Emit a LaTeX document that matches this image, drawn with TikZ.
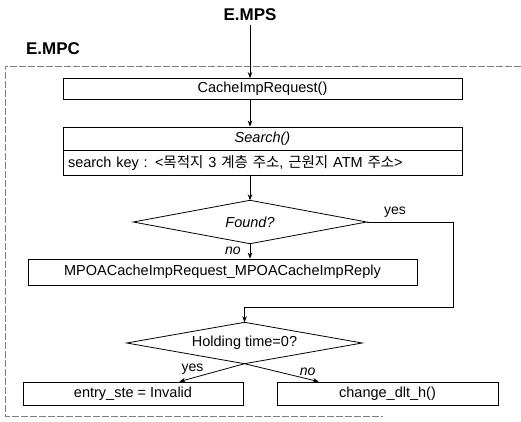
\documentclass[tikz,border=0pt]{standalone}
\usepackage{fontspec}
\setmainfont{Liberation Sans}
\newfontfamily\krfont{Noto Sans CJK KR}
\usetikzlibrary{arrows.meta, calc}

\tikzset{
  title/.style={font=\fontsize{17}{19}\selectfont\bfseries},
  box/.style={draw, rectangle, line width=0.8pt, inner sep=0pt, font=\fontsize{14.5}{16}\selectfont},
  decide/.style={rectangle, inner sep=0pt, font=\fontsize{14.5}{16}\selectfont},
  flow/.style={line width=0.8pt, -{Stealth[length=6pt,width=4.5pt]}},
  lbl/.style={font=\fontsize{14}{16}\selectfont, inner sep=1pt}
}

\begin{document}
\begin{tikzpicture}[x=1pt, y=-1pt]
\useasboundingbox (0,0) rectangle (521,422);

%the frame of the client
\draw [gray, line width=0.5pt, dash pattern=on 7pt off 2pt] (521,66) -- (5,66) -- (5,416) -- (383,416);

%the titles
\node [title] (mps) at (250,15) {E.MPS};
\node [title] (mpc) at (53,49) {E.MPC};

%the boxes
\node [box, minimum width=399pt, minimum height=21pt] (req) at (262.5,89) {CacheImpRequest()};
\node [box, minimum width=399pt, minimum height=23pt, font=\fontsize{14.5}{16}\selectfont\itshape] (srch) at (262.5,138.5) {Search()};
\node [box, minimum width=399pt, minimum height=25pt, text width=389pt, inner xsep=5pt, align=left] (key) at (262.5,162.5)
  {search key : <{\krfont 목적지} 3 {\krfont 계층 주소}, {\krfont 근원지} ATM {\krfont 주소}>};
\node [box, minimum width=389pt, minimum height=26pt] (mpoa) at (222.5,272) {MPOACacheImpRequest\_MPOACacheImpReply};
\node [box, minimum width=220pt, minimum height=23pt] (inv) at (133,393.5) {entry\_ste = Invalid};
\node [box, minimum width=221pt, minimum height=23pt] (chg) at (387.5,393.5) {change\_dlt\_h()};

%the decisions
\node [decide, minimum width=233pt, minimum height=43pt, font=\fontsize{14.5}{16}\selectfont\itshape] (found) at (250,222) {Found?};
\draw [line width=0.8pt] (found.north) -- (found.east) -- (found.south) -- (found.west) -- cycle;
\node [decide, minimum width=235pt, minimum height=41pt] (hold) at (244.5,343) {Holding time=0?};
\draw [line width=0.8pt] (hold.north) -- (hold.east) -- (hold.south) -- (hold.west) -- cycle;

%the arrows
\draw [flow] (mps.south) -- (mps |- req.north);
\draw [flow] (mps |- req.south) -- (mps |- srch.north);
\draw [flow] (found |- key.south) -- (found.north);
\draw [flow] (found.south) -- (found |- mpoa.north) node [lbl, pos=0.5, left=8pt, font=\fontsize{14}{16}\selectfont\itshape] (no1) {no};

\coordinate (turn) at (453,307);
\draw [flow] (found.east) -| (turn) -| (hold.north);
\node [lbl] (yes1) at (395,212) {yes};

\draw [flow] (hold.south) -- ($(inv.north west)!0.71!(inv.north east)$) node [lbl, pos=0.8, above=2pt] (yes2) {yes};
\draw [flow] (hold.south) -- ($(chg.north west)!0.19!(chg.north east)$) node [lbl, pos=0.85, above=2pt, font=\fontsize{14}{16}\selectfont\itshape] (no2) {no};
\end{tikzpicture}
\end{document}
